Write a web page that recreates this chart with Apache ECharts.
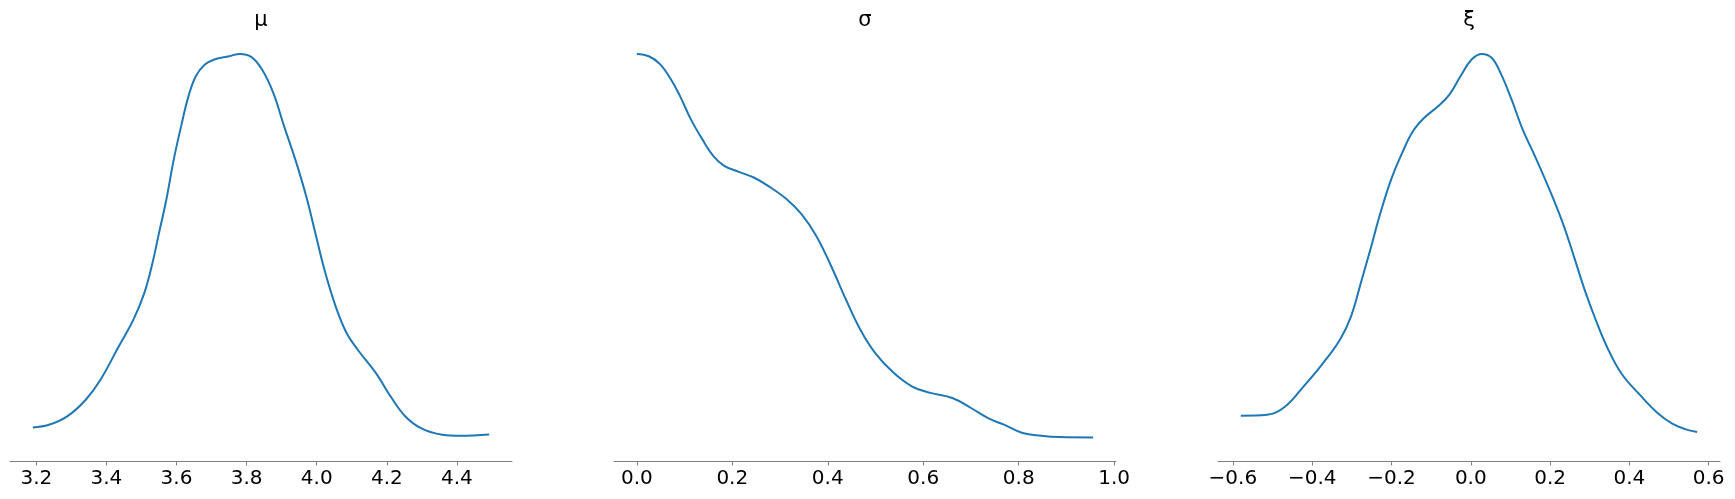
<!DOCTYPE html>
<html>
<head>
<meta charset="utf-8">
<script src="https://cdn.jsdelivr.net/npm/echarts@6/dist/echarts.min.js"></script>
<style>
html,body{margin:0;padding:0;background:#fff;}
#chart{width:1735px;height:499px;}
</style>
</head>
<body>
<div id="chart"></div>
<script>
// Panel titles
var titles = ['μ', 'σ', 'ξ'];

// Tick values for each panel
var ticksMu = [3.2, 3.4, 3.6, 3.8, 4.0, 4.2, 4.4];
var ticksSigma = [0.0, 0.2, 0.4, 0.6, 0.8, 1.0];
var ticksXi = [-0.6, -0.4, -0.2, 0.0, 0.2, 0.4, 0.6];

// Posterior density (KDE) for μ
var muX = [3.19, 3.236, 3.288, 3.341, 3.383, 3.435, 3.477, 3.508, 3.529, 3.550, 3.571, 3.592, 3.613, 3.634, 3.655, 3.681, 3.708, 3.750, 3.781, 3.813, 3.844, 3.876, 3.907, 3.939, 3.970, 3.996, 4.022, 4.054, 4.085, 4.117, 4.169, 4.211, 4.253, 4.300, 4.358, 4.411, 4.492];
var muY = [0.159, 0.171, 0.210, 0.288, 0.381, 0.536, 0.661, 0.785, 0.909, 1.065, 1.221, 1.407, 1.562, 1.702, 1.796, 1.850, 1.874, 1.889, 1.900, 1.886, 1.827, 1.718, 1.562, 1.407, 1.236, 1.065, 0.894, 0.723, 0.599, 0.521, 0.412, 0.303, 0.210, 0.153, 0.125, 0.120, 0.126];

// Posterior density (KDE) for σ
var sigmaX = [0.0, 0.025, 0.048, 0.071, 0.090, 0.113, 0.137, 0.160, 0.183, 0.214, 0.245, 0.275, 0.314, 0.345, 0.376, 0.407, 0.438, 0.468, 0.499, 0.538, 0.576, 0.615, 0.661, 0.700, 0.738, 0.769, 0.808, 0.847, 0.885, 0.956];
var sigmaY = [2.400, 2.386, 2.341, 2.252, 2.154, 2.016, 1.898, 1.800, 1.741, 1.705, 1.672, 1.623, 1.544, 1.456, 1.328, 1.151, 0.954, 0.777, 0.640, 0.522, 0.443, 0.404, 0.374, 0.315, 0.252, 0.217, 0.168, 0.152, 0.144, 0.142];

// Posterior density (KDE) for ξ
var xiX = [-0.580, -0.514, -0.468, -0.422, -0.376, -0.330, -0.302, -0.275, -0.251, -0.228, -0.201, -0.173, -0.146, -0.118, -0.081, -0.054, -0.026, 0.002, 0.028, 0.053, 0.075, 0.103, 0.131, 0.158, 0.195, 0.232, 0.260, 0.287, 0.315, 0.343, 0.379, 0.426, 0.471, 0.508, 0.540, 0.571];
var xiY = [0.202, 0.206, 0.243, 0.331, 0.427, 0.538, 0.641, 0.803, 0.950, 1.097, 1.245, 1.363, 1.458, 1.517, 1.571, 1.620, 1.701, 1.775, 1.800, 1.782, 1.716, 1.598, 1.465, 1.363, 1.215, 1.053, 0.906, 0.759, 0.626, 0.508, 0.391, 0.295, 0.214, 0.167, 0.143, 0.130];

function pairs(xs, ys) { return xs.map(function (x, i) { return [x, ys[i]]; }); }
function fmt(v) { var s = Math.abs(v).toFixed(1); return (v < -1e-9 ? '\u2212' : '') + s; }
function pad(xs) { var lo = Math.min.apply(null, xs), hi = Math.max.apply(null, xs), m = (hi - lo) * 0.05; return [lo - m, hi + m]; }
function ymax(ys) { return Math.max.apply(null, ys) * 1.05; }

var panels = [
  { x: muX, y: muY, ticks: ticksMu, left: 10, width: 502 },
  { x: sigmaX, y: sigmaY, ticks: ticksSigma, left: 614, width: 502 },
  { x: xiX, y: xiY, ticks: ticksXi, left: 1218, width: 502 }
];

var FONT = 'DejaVu Sans';
var axisGray = '#808080';
var option = {
  animation: false,
  backgroundColor: '#ffffff',
  graphic: [], grid: [], xAxis: [], yAxis: [], series: []
};
panels.forEach(function (p, i) {
  var r = pad(p.x);
  option.graphic.push({
    type: 'text', x: p.left + p.width / 2, y: 21,
    style: { text: titles[i], fill: '#000', font: '21px "DejaVu Sans"', textAlign: 'center', textVerticalAlign: 'middle' }
  });
  option.grid.push({ left: p.left, width: p.width, top: 33.5, height: 428 });
  option.xAxis.push({
    type: 'value', gridIndex: i, min: r[0], max: r[1],
    axisLine: { show: true, lineStyle: { color: axisGray, width: 1 } },
    axisTick: { show: true, length: 4, customValues: p.ticks, lineStyle: { color: axisGray, width: 1 } },
    axisLabel: { customValues: p.ticks, formatter: fmt, margin: 7, fontFamily: FONT, fontSize: 20, color: '#000' },
    splitLine: { show: false }
  });
  option.yAxis.push({ type: 'value', gridIndex: i, min: 0, max: ymax(p.y), show: false, splitLine: { show: false } });
  option.series.push({
    type: 'line', xAxisIndex: i, yAxisIndex: i, data: pairs(p.x, p.y),
    smooth: 0.4, showSymbol: false, symbol: 'none',
    lineStyle: { color: '#1f77b4', width: 2 }
  });
});
var chart = echarts.init(document.getElementById('chart'), null, { renderer: 'canvas' });
chart.setOption(option);
</script>
</body>
</html>
